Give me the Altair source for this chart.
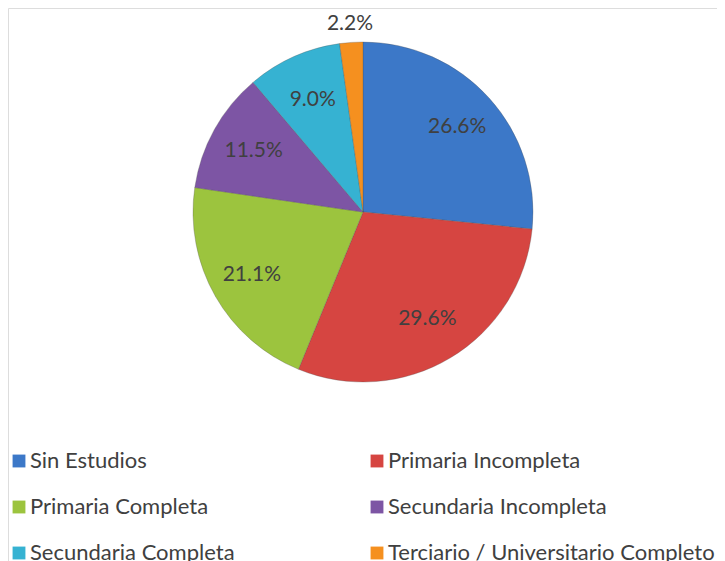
import altair as alt
import pandas as pd

categories = ["Sin Estudios", "Primaria Incompleta", "Primaria Completa",
              "Secundaria Incompleta", "Secundaria Completa",
              "Terciario / Universitario Completo"]
values = [26.6, 29.6, 21.1, 11.5, 9.0, 2.2]
labels = ["26.6%", "29.6%", "21.1%", "11.5%", "9.0%", "2.2%"]
label_radius = [127, 125, 128, 125, 123, 188]
colors = ["#3C78C8", "#D64541", "#9CC43E", "#7D55A4", "#36B2D2", "#F5901F"]

df = pd.DataFrame({
    "cat": categories,
    "val": values,
    "label": labels,
    "lr": label_radius,
    "idx": list(range(len(categories))),
})

FONT = "Lato"
theta_scale = alt.Scale(domain=[0, 100], zero=True)

base = alt.Chart(df).transform_window(
    cum="sum(val)", sort=[alt.SortField("idx")], frame=[None, 0]
).transform_calculate(
    start="datum.cum - datum.val",
    mid="datum.cum - datum.val / 2",
)

pie = base.mark_arc(radius=170, stroke="#505050", strokeWidth=0.6, strokeOpacity=0.5).encode(
    theta=alt.Theta("start:Q", scale=theta_scale),
    theta2="cum:Q",
    x=alt.value(355),
    y=alt.value(204),
    color=alt.Color(
        "cat:N",
        scale=alt.Scale(domain=categories, range=colors),
        legend=alt.Legend(
            title=None,
            orient="none",
            direction="horizontal",
            legendX=0,
            legendY=442,
            columns=2,
            columnPadding=131,
            rowPadding=24,
            symbolType="square",
            symbolSize=165,
            symbolStrokeWidth=0,
            labelFont=FONT,
            labelFontSize=22,
            labelColor="#404040",
            labelOffset=0,
            labelLimit=400,
            padding=0,
        ),
    ),
)

text = base.mark_text(font=FONT, fontSize=21, color="#404040").encode(
    theta=alt.Theta("mid:Q", scale=theta_scale),
    x=alt.value(355),
    y=alt.value(204),
    radius=alt.Radius("lr:Q", scale=None),
    text="label:N",
)

chart = alt.layer(pie, text).properties(
    width=709, height=553, padding=0, autosize="none"
).configure_view(stroke=None).configure(background="white")

chart.save("out.html", embed_options={"renderer": "svg", "actions": False})
